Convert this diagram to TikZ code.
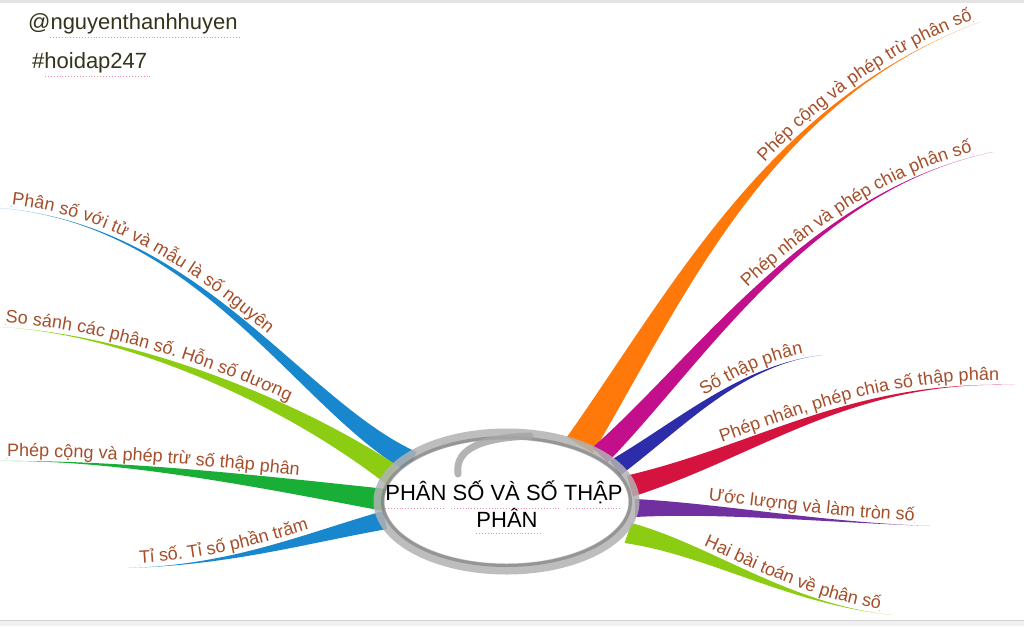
\documentclass[tikz,border=0pt]{standalone}
\usepackage{fontspec}
\setmainfont{Liberation Sans}
\usetikzlibrary{calc,decorations.text,decorations.markings}
\definecolor{lbl}{RGB}{165,78,42}
\definecolor{hdl}{RGB}{52,52,28}
\definecolor{spellc}{RGB}{232,150,170}
\definecolor{cblue}{RGB}{25,135,205}
\definecolor{clime}{RGB}{140,205,20}
\definecolor{cgreen}{RGB}{25,175,55}
\definecolor{corange}{RGB}{255,120,10}
\definecolor{cmagenta}{RGB}{195,15,140}
\definecolor{cindigo}{RGB}{45,45,170}
\definecolor{ccrimson}{RGB}{212,20,62}
\definecolor{cpurple}{RGB}{112,48,160}
\newcommand\lblf{\fontsize{18}{21}\selectfont}
\newlength\lblw
% #1 colour, #2 tip, #3 control near tip, #4 control near root, #5 root, #6 half-width vector (towards label side)
\newcommand\mmbranch[6]{%
  \fill[#1] (#2) .. controls (#3) and ($(#4)+0.5*(#6)$) .. ($(#5)+(#6)$)
    -- ($(#5)-(#6)$) .. controls ($(#4)-0.5*(#6)$) and (#3) .. (#2) -- cycle;}
% labels along the label-side edge: #1 tip, #2 c1, #3 c2, #4 root, #5 half-width vector, #6 text, #7 indent (pt, number)
\newcommand\mmlabL[7]{%
  \settowidth{\lblw}{\lblf #6}%
  \pgfmathsetmacro\lblend{#7+\lblw}%
  \path[lblL={#6}{#7pt}] (#1) .. controls (#2) and ($(#3)+0.5*(#5)$) .. ($(#4)+(#5)$);
  \path[decorate, decoration={markings,
      mark=between positions #7pt and \lblend pt step 2.4pt with {\fill[spellc] (0,2.6pt) circle[radius=0.55pt];}}]
    (#1) .. controls (#2) and ($(#3)+0.5*(#5)$) .. ($(#4)+(#5)$);}
\newcommand\mmlabR[7]{%
  \settowidth{\lblw}{\lblf #6}%
  \pgfmathsetmacro\lblend{#7+\lblw}%
  \path[lblR={#6}{#7pt}] ($(#4)+(#5)$) .. controls ($(#3)+0.5*(#5)$) and (#2) .. (#1);
  \path[decorate, decoration={markings,
      mark=between positions -\lblend pt and -#7pt step 2.4pt with {\fill[spellc] (0,2.6pt) circle[radius=0.55pt];}}]
    ($(#4)+(#5)$) .. controls ($(#3)+0.5*(#5)$) and (#2) .. (#1);}
\tikzset{
  handle/.style={font=\fontsize{22}{26}\selectfont, text=hdl, anchor=base west, inner sep=0pt},
  ctext/.style={font=\fontsize{22}{26}\selectfont, text=black, anchor=base, inner sep=0pt},
  spell/.style={draw=spellc, dotted, line width=0.9pt},
  ring/.style={draw=gray!60, line width=11pt, opacity=0.85},
  lblL/.style 2 args={decorate, decoration={text along path, text={|\lblf|#1},
      text color=lbl, raise=4.5pt, text align={left, left indent=#2}}},
  lblR/.style 2 args={decorate, decoration={text along path, text={|\lblf|#1},
      text color=lbl, raise=4.5pt, text align={right, right indent=#2}}}
}
\begin{document}
\begin{tikzpicture}[x=1pt,y=-1pt]
\useasboundingbox (0,0) rectangle (1024,626);
\fill[white] (0,0) rectangle (1024,626);
% frame bands
\fill[gray!22] (0,0) rectangle (1024,3);
\fill[gray!12] (0,620) rectangle (1024,626);
\draw[gray!35] (0,620) -- (1024,620);

% coordinates: left branches
\coordinate (t1) at (0,208);   \coordinate (a1) at (200,225); \coordinate (b1) at (300,405); \coordinate (r1) at (412,462);
\coordinate (t2) at (0,327);   \coordinate (a2) at (120,333); \coordinate (b2) at (280,395); \coordinate (r2) at (392,475);
\coordinate (t3) at (0,461);   \coordinate (a3) at (120,460); \coordinate (b3) at (250,480); \coordinate (r3) at (385,500);
\coordinate (t4) at (128,568); \coordinate (a4) at (230,565); \coordinate (b4) at (300,540); \coordinate (r4) at (385,520);
% right branches
\coordinate (t5) at (980,22);   \coordinate (a5) at (770,100); \coordinate (b5) at (680,290); \coordinate (r5) at (580,445);
\coordinate (t6) at (993,152);  \coordinate (a6) at (810,190); \coordinate (b6) at (700,360); \coordinate (r6) at (600,455);
\coordinate (t7) at (822,355);  \coordinate (a7) at (740,365); \coordinate (b7) at (680,425); \coordinate (r7) at (615,468);
\coordinate (t8) at (1015,385); \coordinate (a8) at (850,380); \coordinate (b8) at (760,450); \coordinate (r8) at (630,486);
\coordinate (t9) at (930,526);  \coordinate (a9) at (820,522); \coordinate (b9) at (720,508); \coordinate (r9) at (635,508);
\coordinate (t10) at (893,615); \coordinate (a10) at (790,605); \coordinate (b10) at (710,550); \coordinate (r10) at (628,533);

% branches
\mmbranch{cblue}{t1}{a1}{b1}{r1}{4.5,-10}
\mmbranch{clime}{t2}{a2}{b2}{r2}{6,-9}
\mmbranch{cgreen}{t3}{a3}{b3}{r3}{1.5,-11}
\mmbranch{cblue}{t4}{a4}{b4}{r4}{-2,-9}
\mmbranch{corange}{t5}{a5}{b5}{r5}{-13,-8}
\mmbranch{cmagenta}{t6}{a6}{b6}{r6}{-7.5,-7.5}
\mmbranch{cindigo}{t7}{a7}{b7}{r7}{-5,-7.5}
\mmbranch{ccrimson}{t8}{a8}{b8}{r8}{-3,-10.5}
\mmbranch{cpurple}{t9}{a9}{b9}{r9}{0,-9}
\mmbranch{clime}{t10}{a10}{b10}{r10}{3.5,-10}

% labels along branches
\mmlabL{t1}{a1}{b1}{r1}{4.5,-10}{Phân số với tử và mẫu là số nguyên}{11}
\mmlabL{t2}{a2}{b2}{r2}{6,-9}{So sánh các phân số. Hỗn số dương}{5}
\mmlabL{t3}{a3}{b3}{r3}{1.5,-11}{Phép cộng và phép trừ số thập phân}{7}
\mmlabL{t4}{a4}{b4}{r4}{-2,-9}{Tỉ số. Tỉ số phần trăm}{12}
\mmlabR{t5}{a5}{b5}{r5}{-13,-8}{Phép cộng và phép trừ phân số}{6}
\mmlabR{t6}{a6}{b6}{r6}{-7.5,-7.5}{Phép nhân và phép chia phân số}{20}
\mmlabR{t7}{a7}{b7}{r7}{-5,-7.5}{Số thập phân}{18}
\mmlabR{t8}{a8}{b8}{r8}{-3,-10.5}{Phép nhân, phép chia số thập phân}{16}
\mmlabR{t9}{a9}{b9}{r9}{0,-9}{Ước lượng và làm tròn số}{16}
\mmlabR{t10}{a10}{b10}{r10}{3.5,-10}{Hai bài toán về phân số}{14}

% central ellipse
\coordinate (c) at (506.5,501.5);
\fill[white] (c) ellipse [x radius=123, y radius=63];
\draw[ring] (c) ellipse [x radius=127.5, y radius=67.5];
\draw[draw=black!70, line width=3pt, opacity=0.35] (c) ellipse [x radius=124, y radius=64];
\draw[draw=gray!70, line width=7pt, line cap=round, opacity=0.85] (458,474) .. controls (455,450) and (478,438) .. (530,436);

% central text
\node[ctext] (m1) at (504,500) {PHÂN SỐ VÀ SỐ THẬP};
\node[ctext] (m2) at (507,527) {PHÂN};
\draw[spell] (385,508) -- (445,508);
\draw[spell] (451,508) -- (560,508);
\draw[spell] (567,508) -- (620,508);
\draw[spell] (476,533) -- (540,533);

% handles
\node[handle] (h1) at (28,30) {@nguyenthanhhuyen};
\node[handle] (h2) at (32,68) {\#hoidap247};
\draw[spell] (50,37) -- (240,37);
\draw[spell] (45,76) -- (150,76);
\end{tikzpicture}
\end{document}
